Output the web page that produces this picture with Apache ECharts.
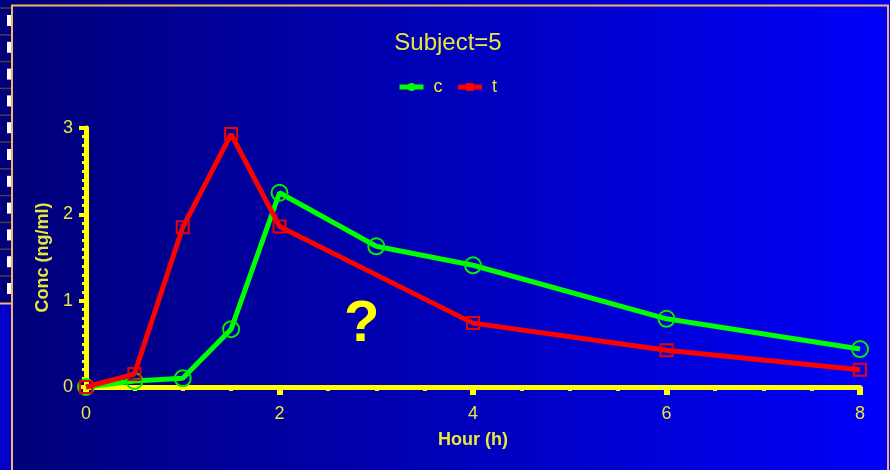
<!DOCTYPE html>
<html>
<head>
<meta charset="utf-8">
<script src="https://cdn.jsdelivr.net/npm/echarts@6/dist/echarts.min.js"></script>
<style>
html,body{margin:0;padding:0;background:#000080;}
#chart{width:890px;height:470px;}
</style>
</head>
<body>
<div id="chart"></div>
<script>
var titleText = 'Subject=5';
var seriesNames = ['c', 't'];
var hoursC = [0, 0.5, 1, 1.5, 2, 3, 4, 6, 8];
var concC  = [0, 0.07, 0.1, 0.67, 2.25, 1.63, 1.41, 0.79, 0.44];
var hoursT = [0, 0.5, 1, 1.5, 2, 4, 6, 8];
var concT  = [0, 0.15, 1.85, 2.93, 1.86, 0.74, 0.425, 0.2];
var xTicks = [0, 2, 4, 6, 8];
var yTicks = [0, 1, 2, 3];

function pairs(xs, ys){ return xs.map(function(x,i){ return [x, ys[i]]; }); }

var labelYellow = '#e8e83a';
var axisYellow = '#ffff00';
var font = '"Liberation Sans", Arial, sans-serif';

var stripGraphics = [];
stripGraphics.push({type:'rect', shape:{x:0,y:0,width:11,height:303}, style:{fill:'#00007a'}, z:-1});
stripGraphics.push({type:'rect', shape:{x:0,y:304,width:11,height:166}, style:{fill:'#0000c8'}, z:-1});
stripGraphics.push({type:'line', shape:{x1:0,y1:303.5,x2:11,y2:303.5}, style:{stroke:'#f4b26a',lineWidth:2}});
for (var k = 0; k < 11; k++) {
  var gy = 8 + k * 26.8;
  stripGraphics.push({type:'line', shape:{x1:0,y1:gy,x2:11,y2:gy}, style:{stroke:'#404048',lineWidth:1.5}});
  stripGraphics.push({type:'rect', shape:{x:7,y:gy+7,width:4,height:11}, style:{fill:'#ffffff'}});
}

var chart = echarts.init(document.getElementById('chart'));
chart.setOption({
  backgroundColor: new echarts.graphic.LinearGradient(0, 0, 1, 0, [
    {offset: 0, color: '#000078'},
    {offset: 1, color: '#0000fa'}
  ]),
  animation: false,
  textStyle: {fontFamily: font},
  title: {
    text: titleText,
    left: 443, top: 26,
    textAlign: 'center',
    textStyle: {color: labelYellow, fontSize: 24, fontWeight: 'normal', fontFamily: font}
  },
  legend: {
    left: 392, top: 73,
    itemWidth: 24, itemHeight: 10, itemGap: 13,
    textStyle: {color: labelYellow, fontSize: 18, fontFamily: font, padding: [0, 0, 0, 5]},
    data: [
      {name: 'c', itemStyle: {color: '#00ff00', borderWidth: 0}, lineStyle: {color: '#00ff00', width: 5}},
      {name: 't', itemStyle: {color: '#ff0000', borderWidth: 0}, lineStyle: {color: '#ff0000', width: 5}}
    ]
  },
  grid: {left: 86, right: 30, top: 128, bottom: 83, containLabel: false},
  xAxis: {
    type: 'value', min: 0, max: 8, interval: 2,
    name: 'Hour (h)', nameLocation: 'middle', nameGap: 44,
    nameTextStyle: {color: labelYellow, fontSize: 18, fontWeight: 'bold', fontFamily: font},
    axisLine: {show: true, onZero: false, lineStyle: {color: axisYellow, width: 5}},
    axisTick: {show: true, inside: false, length: 8, lineStyle: {color: axisYellow, width: 6}},
    minorTick: {show: true, splitNumber: 4, length: 4, lineStyle: {color: axisYellow, width: 4}},
    splitLine: {show: false},
    axisLabel: {color: labelYellow, fontSize: 18, margin: 18, fontFamily: font,
      formatter: function(v){ return xTicks.indexOf(v) >= 0 ? String(v) : ''; }}
  },
  yAxis: {
    type: 'value', min: 0, max: 3, interval: 1,
    name: 'Conc (ng/ml)', nameLocation: 'middle', nameGap: 30, nameRotate: 90,
    nameTextStyle: {color: labelYellow, fontSize: 18, fontWeight: 'bold', fontFamily: font},
    axisLine: {show: true, lineStyle: {color: axisYellow, width: 5}},
    axisTick: {show: true, inside: false, length: 7, lineStyle: {color: axisYellow, width: 4}},
    minorTick: {show: true, splitNumber: 10, length: 4, lineStyle: {color: axisYellow, width: 3}},
    splitLine: {show: false},
    axisLabel: {color: labelYellow, fontSize: 18, margin: 13, fontFamily: font,
      formatter: function(v){ return yTicks.indexOf(v) >= 0 ? String(v) : ''; }}
  },
  series: [
    {
      name: seriesNames[0], type: 'line', data: pairs(hoursC, concC),
      symbol: 'circle', symbolSize: 16, clip: false,
      lineStyle: {color: '#00ff00', width: 5},
      itemStyle: {color: 'rgba(0,0,0,0)', borderColor: '#00ee00', borderWidth: 2},
      z: 2
    },
    {
      name: seriesNames[1], type: 'line', data: pairs(hoursT, concT),
      symbol: 'rect', symbolSize: 12, clip: false,
      lineStyle: {color: '#ff0000', width: 5},
      itemStyle: {color: 'rgba(0,0,0,0)', borderColor: '#ee0000', borderWidth: 2},
      z: 3
    }
  ],
  graphic: stripGraphics.concat([
    {type: 'rect', shape: {x: 12, y: 5.5, width: 876, height: 470}, style: {fill: 'none', stroke: '#f4b26a', lineWidth: 2}},
    {type: 'text', left: 344, top: 296, style: {text: '?', fill: '#ffff00', font: 'bold 58px "Liberation Sans", Arial, sans-serif'}}
  ])
});
</script>
</body>
</html>
